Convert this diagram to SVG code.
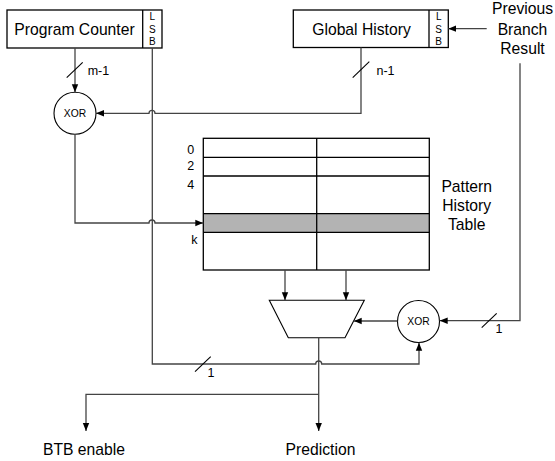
<svg xmlns="http://www.w3.org/2000/svg" width="555" height="461" viewBox="0 0 555 461">
  <defs>
    <marker id="arrow" viewBox="0 0 8 8" refX="8" refY="4" markerWidth="8" markerHeight="8" markerUnits="userSpaceOnUse" orient="auto">
      <path d="M0,0.8 L8,4 L0,7.2 Z" fill="#000"/>
    </marker>
    <style>
      .box { fill: #fff; stroke: #000; stroke-width: 1.3; }
      .gate { fill: #fff; stroke: #000; stroke-width: 1.1; }
      .wire { fill: none; stroke: #444; stroke-width: 1.3; }
      .arrowed { marker-end: url(#arrow); }
      .tick { fill: none; stroke: #000; stroke-width: 1.1; }
      .cell { fill: none; stroke: #000; stroke-width: 1.3; }
      .hit { fill: #b3b3b3; stroke: none; }
      text { font-family: "Liberation Sans", Arial, sans-serif; fill: #000; }
      .lbl { font-size: 15.7px; }
      .mid { text-anchor: middle; }
      .small { font-size: 10px; }
      .xor { font-size: 10.3px; }
      .num { font-size: 12.5px; }
    </style>
  </defs>

  <!-- registers -->
  <g id="program-counter">
    <rect class="box" x="7" y="10" width="155" height="38"/>
    <line class="box" x1="142.7" y1="10" x2="142.7" y2="48"/>
    <text class="lbl mid" x="74.5" y="34.5">Program Counter</text>
    <text class="small mid" x="152.3" y="19.5">L</text>
    <text class="small mid" x="152.3" y="33">S</text>
    <text class="small mid" x="152.3" y="45">B</text>
  </g>

  <g id="global-history">
    <rect class="box" x="293.3" y="10" width="155" height="37.5"/>
    <line class="box" x1="429" y1="10" x2="429" y2="47.5"/>
    <text class="lbl mid" x="361.5" y="34.5">Global History</text>
    <text class="small mid" x="438.7" y="19.5">L</text>
    <text class="small mid" x="438.7" y="33">S</text>
    <text class="small mid" x="438.7" y="45">B</text>
  </g>

  <g id="branch-result">
    <text class="lbl mid" x="522.5" y="13.5">Previous</text>
    <text class="lbl mid" x="522.5" y="34.5">Branch</text>
    <text class="lbl mid" x="522.5" y="53.5">Result</text>
  </g>

  <!-- index hash -->
  <g id="xor-index">
    <circle class="gate" cx="75" cy="113.3" r="21"/>
    <text class="xor mid" x="75" y="117">XOR</text>
  </g>

  <!-- pattern history table -->
  <g id="pattern-history-table">
    <rect class="hit" x="203.3" y="213.7" width="226" height="18.6"/>
    <rect class="cell" x="203.3" y="138.3" width="226" height="131.7"/>
    <line class="cell" x1="316.7" y1="138.3" x2="316.7" y2="270"/>
    <line class="cell" x1="203.3" y1="157.3" x2="429.3" y2="157.3"/>
    <line class="cell" x1="203.3" y1="176" x2="429.3" y2="176"/>
    <line class="cell" x1="203.3" y1="213.7" x2="429.3" y2="213.7"/>
    <line class="cell" x1="203.3" y1="232.3" x2="429.3" y2="232.3"/>
    <text class="num" x="187.3" y="153.5">0</text>
    <text class="num" x="187.3" y="170">2</text>
    <text class="num" x="187.3" y="188.7">4</text>
    <text class="num" x="191.3" y="244">k</text>
    <text class="lbl mid" x="466.7" y="191.5">Pattern</text>
    <text class="lbl mid" x="466.7" y="210.5">History</text>
    <text class="lbl mid" x="466.7" y="229.5">Table</text>
  </g>

  <!-- 2:1 selector -->
  <g id="mux">
    <path class="gate" d="M269.3,300.3 L364.3,300.3 L345,337.7 L288.3,337.7 Z"/>
  </g>

  <g id="xor-select">
    <circle class="gate" cx="418.5" cy="321.5" r="21"/>
    <text class="xor mid" x="418.5" y="325.2">XOR</text>
  </g>

  <g id="outputs">
    <text class="lbl mid" x="84" y="455">BTB enable</text>
    <text class="lbl mid" x="320.5" y="455">Prediction</text>
  </g>

  <!-- wiring -->
  <g id="connectors">
    <!-- PC upper bits to XOR -->
    <path class="wire arrowed" d="M75,48 V92.3"/>
    <line class="tick" x1="66.7" y1="77.7" x2="82.7" y2="62.3"/>
    <text class="num" x="87.7" y="75">m-1</text>

    <!-- global history to XOR, hopping over the LSB line -->
    <path class="wire arrowed" d="M361,47.5 V113.3 H155 A3,3 0 0 0 149,113.3 H96"/>
    <line class="tick" x1="352.7" y1="77.7" x2="369.3" y2="61.7"/>
    <text class="num" x="376.5" y="75">n-1</text>

    <!-- XOR result indexes the table -->
    <path class="wire arrowed" d="M75,134.3 V223 H149 A3,3 0 0 1 155,223 H203.3"/>

    <!-- previous branch result into the history LSB -->
    <path class="wire arrowed" d="M486.7,28.7 H448.3"/>

    <!-- previous branch result to select XOR -->
    <path class="wire arrowed" d="M520,63.3 V320.7 H439.7"/>
    <line class="tick" x1="481.7" y1="327.7" x2="496.7" y2="313.3"/>
    <text class="num" x="495.5" y="333">1</text>

    <!-- PC LSB to select XOR, hopping over the prediction line -->
    <path class="wire arrowed" d="M152.3,48 V364 H315.7 A3,3 0 0 1 321.7,364 H419 V342.7"/>
    <line class="tick" x1="195" y1="371.7" x2="210.7" y2="356.7"/>
    <text class="num" x="207.5" y="376.7">1</text>

    <!-- table columns into the selector -->
    <path class="wire arrowed" d="M285,270 V300.3"/>
    <path class="wire arrowed" d="M346,270 V300.3"/>

    <!-- select XOR drives the selector -->
    <path class="wire arrowed" d="M397.5,321 H353.7"/>

    <!-- selector output -->
    <path class="wire arrowed" d="M318.7,337.7 V431"/>
    <path class="wire arrowed" d="M318.7,394.3 H86 V431"/>
  </g>
</svg>
